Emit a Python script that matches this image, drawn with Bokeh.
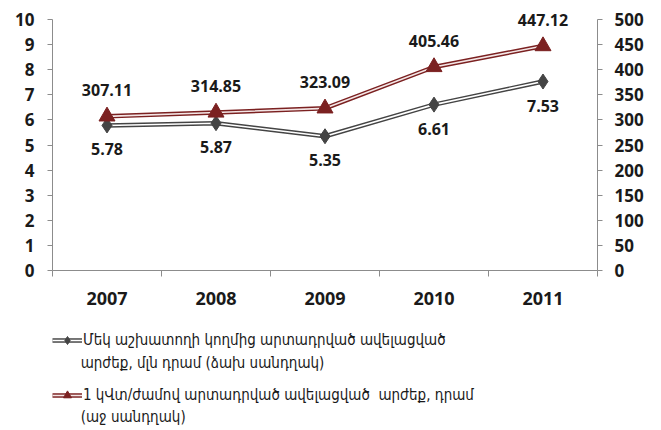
from bokeh.plotting import figure
from bokeh.layouts import column
from bokeh.models import (LinearAxis, Range1d, FixedTicker, Legend, LegendItem, Label)
from bokeh.core.properties import value
from bokeh.embed import file_html
from bokeh.resources import INLINE

years = ["2007", "2008", "2009", "2010", "2011"]
value_per_worker = [5.78, 5.87, 5.35, 6.61, 7.53]          # left scale, mln AMD
value_per_kwh = [307.11, 314.85, 323.09, 405.46, 447.12]   # right scale, AMD
left_ticks = list(range(0, 11))
right_ticks = list(range(0, 501, 50))
label_1 = ["Մեկ աշխատողի կողմից արտադրված ավելացված",
           "արժեք, մլն դրամ (ձախ սանդղակ)"]
label_2 = ["1 կՎտ/ժամով արտադրված ավելացված  արժեք, դրամ",
           "(աջ սանդղակ)"]

xs = list(range(1, len(years) + 1))

p = figure(width=650, height=312, output_backend="svg", toolbar_location=None,
           x_range=Range1d(0.5, len(years) + 0.5), y_range=Range1d(0, 10.4),
           min_border_left=52, min_border_right=53, min_border_top=9,
           min_border_bottom=42)
p.outline_line_color = None
p.grid.grid_line_color = None
p.background_fill_color = "white"
p.border_fill_color = "white"
p.extra_y_ranges = {"right": Range1d(0, 520)}

axis_color = "#8c8c8c"
tick_font = "Open Sans"
text_col = "#1a1a1a"

# x axis
xa = p.xaxis[0]
xa.ticker = FixedTicker(ticks=xs, minor_ticks=[i + 0.5 for i in range(0, len(years) + 1)])
xa.major_label_overrides = {i: y for i, y in zip(xs, years)}
xa.major_tick_line_color = None
xa.major_tick_out = 0
xa.major_tick_in = 0
xa.minor_tick_out = 6
xa.minor_tick_in = 0
xa.minor_tick_line_color = axis_color
xa.axis_line_color = axis_color
xa.major_label_standoff = 15
xa.major_label_text_font = tick_font
xa.major_label_text_font_style = "bold"
xa.major_label_text_font_size = "18px"
xa.major_label_text_color = text_col

# left axis
ya = p.yaxis[0]
ya.ticker = FixedTicker(ticks=left_ticks)
ya.bounds = (0, 10)
ya.minor_tick_line_color = None
ya.major_tick_out = 5
ya.major_tick_in = 0
ya.major_tick_line_color = axis_color
ya.axis_line_color = axis_color
ya.major_label_standoff = 13
ya.major_label_text_font = tick_font
ya.major_label_text_font_style = "bold"
ya.major_label_text_font_size = "17px"
ya.major_label_text_color = text_col

# right axis
ra = LinearAxis(y_range_name="right", ticker=FixedTicker(ticks=right_ticks))
ra.bounds = (0, 500)
ra.minor_tick_line_color = None
ra.major_tick_out = 5
ra.major_tick_in = 0
ra.major_tick_line_color = axis_color
ra.axis_line_color = axis_color
ra.major_label_standoff = 12
ra.major_label_text_font = tick_font
ra.major_label_text_font_style = "bold"
ra.major_label_text_font_size = "17px"
ra.major_label_text_color = text_col
p.add_layout(ra, "right")

g_dark = "#444444"
r_dark = "#7b2121"
r_light = "#f4e6e6"


def draw_series(fig, ys, color, inner, marker, msize, **kw):
    outer = fig.line(xs, ys, line_color=color, line_width=4.5, **kw)
    inner_l = fig.line(xs, ys, line_color=inner, line_width=1.6, **kw)
    pts = fig.scatter(xs, ys, marker=marker, size=msize,
                      fill_color=color, line_color=color, **kw)
    return [outer, inner_l, pts]


draw_series(p, value_per_worker, g_dark, "white", "diamond", 15)
draw_series(p, value_per_kwh, r_dark, r_light, "triangle", 16, y_range_name="right")

# data labels
lab_font = value("Open Sans")
p.text(xs, value_per_worker, text=[f"{v:.2f}" for v in value_per_worker],
       text_align="center", text_baseline="middle", y_offset=24,
       text_font=lab_font, text_font_style="bold", text_font_size="16px",
       text_color=text_col)
p.text(xs, value_per_kwh, y_range_name="right", text=[f"{v:.2f}" for v in value_per_kwh],
       text_align="center", text_baseline="middle", y_offset=-26,
       text_font=lab_font, text_font_style="bold", text_font_size="16px",
       text_color=text_col)

# legend panel below the chart; its ranges are in pixels, the series copies
# that feed the legend glyphs sit on an off-screen range
lg = figure(width=650, height=116, output_backend="svg", toolbar_location=None,
            x_range=Range1d(0, 600), y_range=Range1d(0, 98),
            x_axis_location=None, y_axis_location=None,
            min_border_left=50, min_border_right=0, min_border_top=18,
            min_border_bottom=0)
lg.outline_line_color = None
lg.grid.grid_line_color = None
lg.background_fill_color = "white"
lg.border_fill_color = "white"
lg.extra_x_ranges = {"off": Range1d(-20, -10)}
lg.extra_y_ranges = {"off": Range1d(-20, -10)}
off = dict(x_range_name="off", y_range_name="off")
k1 = draw_series(lg, value_per_worker, g_dark, "white", "diamond", 10, **off)
k2 = draw_series(lg, value_per_kwh, r_dark, r_light, "triangle", 11, **off)

leg_font = "DejaVu Sans Condensed"
leg_size = "15px"
legend = Legend(items=[LegendItem(label=label_1[0], renderers=k1),
                       LegendItem(label=label_2[0], renderers=k2)],
                location="top_left", padding=0, margin=0, spacing=35,
                glyph_width=30, glyph_height=20, label_height=20,
                label_standoff=1,
                border_line_color=None, background_fill_alpha=0,
                label_text_font=leg_font, label_text_font_size=leg_size,
                label_text_color=text_col)
lg.add_layout(legend, "center")

for txt, yy in ((label_1[1], 66), (label_2[1], 12)):
    lg.add_layout(Label(x=31, y=yy, text=txt, text_baseline="middle",
                        text_font=leg_font, text_font_size=leg_size,
                        text_color=text_col))

open("out.html", "w").write(file_html(column(p, lg, spacing=0), INLINE))
